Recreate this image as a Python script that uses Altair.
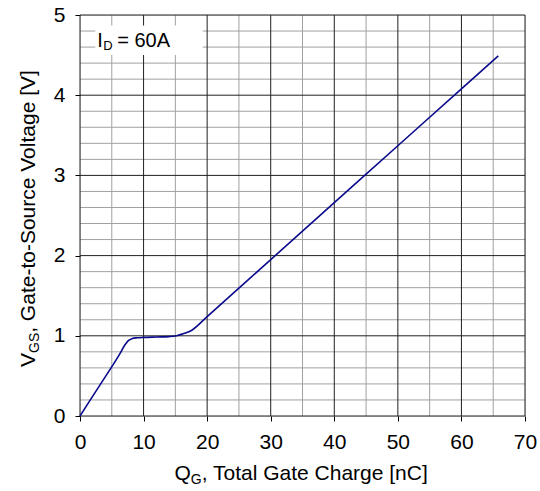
import altair as alt
import pandas as pd

# Curve data
qg = [0.0, 3.0, 6.0, 7.2, 7.6, 8.2, 9.0, 10.0, 12.0, 14.0, 15.2, 16.2, 17.6, 20.0, 30.0, 40.0, 50.0, 60.0, 65.8]
vgs = [0.0, 0.37, 0.74, 0.90, 0.94, 0.965, 0.975, 0.98, 0.985, 0.99, 1.0, 1.025, 1.07, 1.24, 1.95, 2.66, 3.37, 4.08, 4.49]

x_major = [0, 10, 20, 30, 40, 50, 60, 70]
x_minor = [5, 15, 25, 35, 45, 55, 65]
y_major = [0, 1, 2, 3, 4, 5]
y_minor = [round(0.2 * i, 1) for i in range(26) if i % 5 != 0]

box_x = [2.4]
box_x2 = [19.3]
box_y = [4.5]
box_y2 = [4.87]

FONT = "Liberation Sans"
FS = 21
SUB = 14

df = pd.DataFrame({"q": qg, "v": vgs})

xs = alt.Scale(domain=[0, 70], nice=False, zero=False)
ys = alt.Scale(domain=[0, 5], nice=False, zero=False)

xaxis = alt.Axis(values=x_major, title=None, grid=False, labelFont=FONT, labelFontSize=FS,
                 labelColor="black", tickColor="black", domain=False, tickSize=5, labelPadding=10,
                 labelFlush=False, labelOverlap=False)
yaxis = alt.Axis(values=y_major, title=None, grid=False, labelFont=FONT, labelFontSize=FS,
                 labelColor="black", tickColor="black", domain=False, tickSize=5, labelPadding=10,
                 labelFlush=False, labelOverlap=False)

W, H = 445, 401

vminor = alt.Chart(pd.DataFrame({"x": x_minor})).mark_rule(color="#a0a0a0", strokeWidth=1).encode(
    x=alt.X("x:Q", scale=xs, axis=xaxis))
hminor = alt.Chart(pd.DataFrame({"y": y_minor})).mark_rule(color="#a0a0a0", strokeWidth=1).encode(
    y=alt.Y("y:Q", scale=ys, axis=yaxis))
vmajor = alt.Chart(pd.DataFrame({"x": x_major})).mark_rule(color="#202020", strokeWidth=1).encode(
    x=alt.X("x:Q", scale=xs, axis=xaxis))
hmajor = alt.Chart(pd.DataFrame({"y": y_major})).mark_rule(color="#202020", strokeWidth=1).encode(
    y=alt.Y("y:Q", scale=ys, axis=yaxis))

box = alt.Chart(pd.DataFrame({"x": box_x, "x2": box_x2, "y": box_y, "y2": box_y2})).mark_rect(
    color="white").encode(x=alt.X("x:Q", scale=xs, axis=xaxis), x2="x2:Q",
                          y=alt.Y("y:Q", scale=ys, axis=yaxis), y2="y2:Q")

ann = pd.DataFrame({"x": [2.7], "y": [4.69]})
def ann_text(txt, size, dx, dy):
    return alt.Chart(ann).mark_text(text=txt, font=FONT, fontSize=size, align="left", baseline="alphabetic",
                                    dx=dx, dy=dy, color="black").encode(
        x=alt.X("x:Q", scale=xs, axis=xaxis), y=alt.Y("y:Q", scale=ys, axis=yaxis))
ann_i = ann_text("I", 20, 0, 7)
ann_d = ann_text("D", 13, 6, 10)
ann_r = ann_text("= 60A", 20, 20, 7)

line = alt.Chart(df).mark_line(color="#0a0a8c", strokeWidth=1.6, interpolate="monotone").encode(
    x=alt.X("q:Q", scale=xs, axis=xaxis),
    y=alt.Y("v:Q", scale=ys, axis=yaxis),
)

# Axis titles with subscripts
xt = pd.DataFrame({"a": [0]})
def tx(txt, size, x, y, angle=0):
    m = alt.Chart(xt).mark_text(text=txt, font=FONT, fontSize=size, align="left",
                                baseline="alphabetic", color="black", angle=angle)
    return m.encode(x=alt.value(x), y=alt.value(y))

x0 = W / 2 - 128
xb = H + 64
xt_q = tx("Q", FS, x0, xb)
xt_g = tx("G", SUB, x0 + 16.3, xb + 4)
xt_r = tx(", Total Gate Charge [nC]", FS, x0 + 16.3 + 10.9, xb)

y0 = 352
yb = -45
yt_v = tx("V", FS, yb, y0, 270)
yt_g = tx("GS", SUB, yb + 4, y0 - 14.0, 270)
yt_r = tx(", Gate-to-Source Voltage [V]", FS, yb, y0 - 14.0 - 20.2, 270)

chart = alt.layer(vminor, hminor, vmajor, hmajor, box, ann_i, ann_d, ann_r, line,
                  xt_q, xt_g, xt_r, yt_v, yt_g, yt_r).properties(
    width=W, height=H,
    padding={"left": 80, "top": 15, "right": 15, "bottom": 75},
    autosize=alt.AutoSizeParams(type="none"),
).configure_view(stroke="black", strokeWidth=2).configure(background="white")

chart.save("out.html", embed_options={"renderer": "svg", "actions": False})
